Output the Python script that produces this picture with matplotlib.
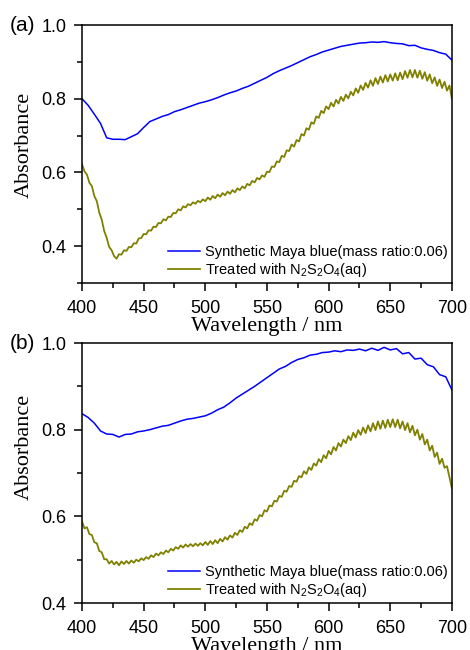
import numpy as np
import matplotlib
matplotlib.use("Agg")
import matplotlib.pyplot as plt
from matplotlib.ticker import MultipleLocator, FormatStrFormatter

# wavelength grids (nm)
wl_fine = np.arange(400, 701, 2)
wl_coarse = np.arange(400, 701, 5)

# (a) synthetic Maya blue, mass ratio 0.06
blue_a = [0.800, 0.782, 0.758, 0.733, 0.694, 0.690, 0.690, 0.689, 0.697, 0.705,
          0.722, 0.738, 0.745, 0.752, 0.757, 0.765, 0.770, 0.776, 0.782, 0.788,
          0.792, 0.797, 0.803, 0.810, 0.816, 0.821, 0.828, 0.834, 0.842, 0.850,
          0.858, 0.868, 0.876, 0.883, 0.890, 0.898, 0.906, 0.914, 0.920, 0.927,
          0.932, 0.937, 0.942, 0.945, 0.948, 0.951, 0.952, 0.954, 0.953, 0.955,
          0.952, 0.950, 0.949, 0.944, 0.945, 0.938, 0.934, 0.931, 0.925, 0.921,
          0.905]

# (a) after treatment with dithionite
olive_a = [0.622, 0.603, 0.594, 0.572, 0.563, 0.536, 0.522, 0.491, 0.472, 0.441,
           0.423, 0.398, 0.389, 0.373, 0.366, 0.378, 0.377, 0.389, 0.387, 0.398,
           0.397, 0.408, 0.407, 0.421, 0.422, 0.433, 0.432, 0.443, 0.442, 0.453,
           0.452, 0.463, 0.462, 0.473, 0.470, 0.480, 0.479, 0.490, 0.489, 0.500,
           0.497, 0.508, 0.505, 0.514, 0.511, 0.519, 0.515, 0.523, 0.519, 0.527,
           0.522, 0.532, 0.526, 0.536, 0.530, 0.540, 0.534, 0.544, 0.538, 0.548,
           0.542, 0.552, 0.546, 0.557, 0.552, 0.562, 0.557, 0.569, 0.565, 0.577,
           0.573, 0.585, 0.581, 0.592, 0.588, 0.602, 0.601, 0.616, 0.615, 0.630,
           0.628, 0.645, 0.642, 0.660, 0.658, 0.676, 0.670, 0.688, 0.684, 0.704,
           0.700, 0.720, 0.716, 0.736, 0.732, 0.752, 0.748, 0.767, 0.761, 0.779,
           0.772, 0.789, 0.779, 0.797, 0.787, 0.805, 0.794, 0.811, 0.801, 0.819,
           0.809, 0.828, 0.816, 0.836, 0.824, 0.843, 0.830, 0.850, 0.835, 0.856,
           0.840, 0.860, 0.844, 0.864, 0.847, 0.866, 0.849, 0.869, 0.850, 0.871,
           0.853, 0.875, 0.857, 0.878, 0.858, 0.878, 0.857, 0.876, 0.854, 0.872,
           0.849, 0.866, 0.842, 0.858, 0.835, 0.852, 0.829, 0.846, 0.822, 0.836,
           0.800]

# (b) synthetic Maya blue
blue_b = [0.837, 0.828, 0.815, 0.797, 0.790, 0.789, 0.783, 0.789, 0.790, 0.795,
          0.797, 0.800, 0.804, 0.808, 0.810, 0.815, 0.820, 0.824, 0.826, 0.829,
          0.832, 0.838, 0.846, 0.852, 0.862, 0.873, 0.882, 0.891, 0.900, 0.910,
          0.920, 0.930, 0.940, 0.946, 0.955, 0.962, 0.966, 0.972, 0.974, 0.978,
          0.979, 0.982, 0.980, 0.984, 0.983, 0.986, 0.982, 0.988, 0.983, 0.990,
          0.984, 0.987, 0.975, 0.978, 0.963, 0.965, 0.950, 0.945, 0.927, 0.922,
          0.892]

# (b) after treatment
olive_b = [0.588, 0.572, 0.575, 0.559, 0.557, 0.540, 0.538, 0.520, 0.517, 0.501,
           0.501, 0.491, 0.497, 0.489, 0.495, 0.487, 0.496, 0.490, 0.497, 0.491,
           0.498, 0.493, 0.500, 0.496, 0.503, 0.499, 0.506, 0.502, 0.510, 0.506,
           0.514, 0.510, 0.517, 0.513, 0.521, 0.517, 0.525, 0.521, 0.529, 0.525,
           0.533, 0.528, 0.535, 0.530, 0.536, 0.531, 0.537, 0.532, 0.538, 0.533,
           0.541, 0.534, 0.543, 0.536, 0.545, 0.538, 0.548, 0.542, 0.552, 0.546,
           0.556, 0.551, 0.562, 0.557, 0.568, 0.564, 0.576, 0.572, 0.584, 0.580,
           0.593, 0.590, 0.603, 0.600, 0.614, 0.611, 0.625, 0.623, 0.636, 0.634,
           0.647, 0.645, 0.659, 0.657, 0.670, 0.668, 0.682, 0.680, 0.693, 0.690,
           0.704, 0.698, 0.713, 0.707, 0.722, 0.717, 0.732, 0.725, 0.741, 0.734,
           0.751, 0.743, 0.760, 0.752, 0.769, 0.761, 0.777, 0.769, 0.785, 0.776,
           0.793, 0.782, 0.799, 0.788, 0.805, 0.792, 0.810, 0.796, 0.815, 0.799,
           0.819, 0.802, 0.821, 0.804, 0.823, 0.806, 0.824, 0.806, 0.823, 0.803,
           0.819, 0.799, 0.815, 0.794, 0.809, 0.787, 0.800, 0.777, 0.790, 0.766,
           0.777, 0.752, 0.763, 0.737, 0.747, 0.721, 0.733, 0.712, 0.716, 0.690,
           0.665]

label_blue = "Synthetic Maya blue(mass ratio:0.06)"
label_olive = r"Treated with N$_2$S$_2$O$_4$(aq)"

plt.rcParams['mathtext.fontset'] = 'custom'
plt.rcParams['mathtext.rm'] = 'Liberation Sans'
plt.rcParams['mathtext.it'] = 'Liberation Sans'
plt.rcParams['font.family'] = 'Liberation Sans'

fig = plt.figure(figsize=(4.7, 6.5), dpi=100)
ax_a = fig.add_axes([0.1745, 0.5646, 0.787, 0.3969])
ax_b = fig.add_axes([0.1745, 0.0723, 0.787, 0.4000])

panels = [
    (ax_a, "(a)", blue_a, olive_a, (0.3, 1.0), 0.535),
    (ax_b, "(b)", blue_b, olive_b, (0.4, 1.0), 0.60),
]

for ax, tag, blue, olive, ylim, ylab_y in panels:
    ax.plot(wl_coarse, blue, color='#0000ff', lw=1.1, label=label_blue)
    ax.plot(wl_fine, olive, color='#808000', lw=1.3, label=label_olive)
    ax.set_xlim(400, 700)
    ax.set_ylim(*ylim)
    ax.xaxis.set_major_locator(MultipleLocator(50))
    ax.xaxis.set_minor_locator(MultipleLocator(25))
    ax.yaxis.set_major_locator(MultipleLocator(0.2))
    ax.yaxis.set_minor_locator(MultipleLocator(0.1))
    ax.yaxis.set_major_formatter(FormatStrFormatter('%.1f'))
    ax.tick_params(which='major', direction='out', length=6, width=1.1,
                   labelsize=13)
    ax.tick_params(axis='x', which='major', pad=6)
    ax.tick_params(axis='y', which='major', pad=5)
    ax.tick_params(which='minor', direction='out', length=3.5, width=1.1)
    for sp in ax.spines.values():
        sp.set_linewidth(1.1)
    ax.set_xlabel("Wavelength / nm", family='Liberation Serif', fontsize=16,
                  labelpad=0)
    ax.set_ylabel("Absorbance", family='Liberation Serif', fontsize=16)
    ax.yaxis.set_label_coords(-0.13, ylab_y)
    ax.text(-0.16, 1.0, tag, transform=ax.transAxes, fontsize=15,
            ha='center', va='center')
    ax.legend(loc='lower right', bbox_to_anchor=(1.012, -0.02), frameon=False,
              fontsize=10.5, handlelength=2.2, handletextpad=0.35,
              labelspacing=0.15, borderaxespad=0.2)

fig.savefig("out.png", dpi=100)
